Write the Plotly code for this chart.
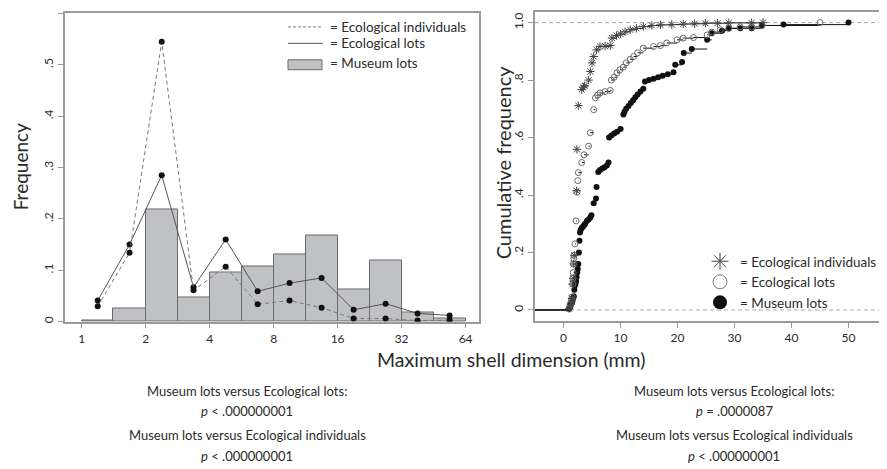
import plotly.graph_objects as go
import math

# ---------------- Left panel data (histogram + frequency polygons) ----------------
bin_edges = [1, 1.41, 2, 2.83, 4, 5.66, 8, 11.31, 16, 22.63, 32, 45.25, 64]
museum_freq = [0.002, 0.025, 0.219, 0.047, 0.096, 0.107, 0.131, 0.167, 0.063, 0.120, 0.017, 0.007]
bin_mids = [1.19, 1.68, 2.38, 3.36, 4.76, 6.73, 9.51, 13.45, 19.03, 26.91, 38.05, 53.82]
eco_lots_freq = [0.041, 0.150, 0.285, 0.067, 0.160, 0.059, 0.075, 0.085, 0.023, 0.035, 0.016, 0.012]
eco_ind_freq = [0.030, 0.134, 0.545, 0.061, 0.107, 0.034, 0.041, 0.027, 0.006, 0.006, 0.002, 0.003]
left_xticks = [1, 2, 4, 8, 16, 32, 64]
left_yticks = [0, 0.1, 0.2, 0.3, 0.4, 0.5, 0.6]
left_yticktext = ["0", ".1", ".2", ".3", ".4", ".5", ".6"]

# ---------------- Right panel data (cumulative frequency) ----------------
museum_x = [1.0, 1.1, 1.2, 1.3, 1.5, 1.6, 1.7, 1.8, 1.9, 2.0, 2.1, 2.2, 2.3, 2.4, 2.5,
            2.6, 2.7, 2.8, 2.9, 3.0, 3.2, 3.4, 3.6, 3.8, 4.1, 4.4, 4.7, 4.9, 5.3, 5.7,
            5.8, 6.1, 6.4, 6.8, 7.2, 7.6, 7.9, 8.0, 8.4, 8.9, 9.4, 10.0, 10.5, 10.7, 11.0,
            11.4, 11.8, 12.2, 12.6, 13.0, 13.5, 14.0, 14.3, 15.0, 15.8, 16.6, 17.4, 18.3, 19.3, 19.6,
            20.8, 21.1, 22.5, 25.2, 26.0, 27.8, 29.0, 31.0, 33.0, 34.8, 38.6, 50.0]
museum_cum = [0.003, 0.008, 0.015, 0.022, 0.028, 0.035, 0.042, 0.048, 0.070, 0.085, 0.090, 0.100, 0.115, 0.130, 0.143,
              0.160, 0.200, 0.241, 0.270, 0.278, 0.285, 0.290, 0.295, 0.300, 0.310, 0.315, 0.322, 0.330, 0.371, 0.388,
              0.428, 0.480, 0.487, 0.492, 0.497, 0.503, 0.513, 0.600, 0.607, 0.614, 0.620, 0.630, 0.680, 0.690, 0.700,
              0.710, 0.720, 0.730, 0.740, 0.750, 0.760, 0.770, 0.795, 0.800, 0.805, 0.810, 0.815, 0.820, 0.827, 0.853,
              0.863, 0.894, 0.908, 0.940, 0.963, 0.972, 0.980, 0.980, 0.980, 0.990, 0.993, 1.000]
eco_lots_x = [1.0, 1.2, 1.4, 1.5, 1.6, 1.65, 1.7, 1.75, 1.8, 1.85, 2.0, 2.2, 2.35, 2.5, 2.6,
              3.2, 3.6, 4.4, 4.7, 5.3, 5.6, 6.0, 6.4, 7.3, 8.2, 8.4, 8.9, 9.4, 9.9, 10.5,
              11.0, 11.7, 12.3, 13.0, 14.0, 15.8, 17.0, 18.1, 19.9, 21.0, 22.8, 25.2, 26.0, 27.5, 29.0,
              31.0, 33.0, 34.8, 45.0]
eco_lots_cum = [0.005, 0.020, 0.035, 0.045, 0.090, 0.110, 0.130, 0.160, 0.180, 0.190, 0.230, 0.310, 0.410, 0.450, 0.478,
                0.513, 0.540, 0.570, 0.617, 0.697, 0.738, 0.748, 0.755, 0.760, 0.764, 0.800, 0.810, 0.825, 0.836, 0.845,
                0.860, 0.872, 0.882, 0.895, 0.911, 0.917, 0.920, 0.929, 0.940, 0.946, 0.948, 0.957, 0.967, 0.975, 0.980,
                0.985, 0.985, 0.990, 1.000]
eco_ind_x = [1.0, 1.3, 1.5, 1.6, 1.7, 1.8, 1.9, 2.3, 2.35, 2.6, 3.2, 3.5, 3.7, 4.4, 4.7,
             5.0, 5.3, 5.8, 6.4, 7.3, 8.2, 8.5, 9.3, 10.0, 10.8, 11.7, 12.8, 14.0, 15.5, 17.0,
             19.0, 21.0, 23.0, 24.9, 27.0, 29.0, 33.0, 35.0]
eco_ind_cum = [0.005, 0.020, 0.040, 0.090, 0.110, 0.160, 0.190, 0.415, 0.559, 0.711, 0.767, 0.775, 0.780, 0.800, 0.830,
               0.860, 0.882, 0.905, 0.917, 0.918, 0.920, 0.946, 0.955, 0.960, 0.968, 0.975, 0.980, 0.986, 0.990, 0.992,
               0.993, 0.995, 0.996, 0.998, 0.998, 0.999, 0.999, 1.000]
right_xticks = [0, 10, 20, 30, 40, 50]
right_yticks = [0, 0.2, 0.4, 0.6, 0.8, 1.0]
right_yticktext = ["0", ".2", ".4", ".6", ".8", "1.0"]

# page body has an 8px default margin, so the figure is sized to fit the window
OFF = 8
W, H = 887 - OFF, 469 - OFF
FONT = "Lato, 'Open Sans', sans-serif"
TXT = "#2a2a2a"
AX = "#9a9a9a"


def px(xp):
    return (xp - OFF) / W


def py(yp):
    return 1 - (yp - OFF) / H


fig = go.Figure()

# histogram bars (Museum lots)
bar_x = [(bin_edges[i] + bin_edges[i + 1]) / 2 for i in range(len(museum_freq))]
bar_w = [bin_edges[i + 1] - bin_edges[i] for i in range(len(museum_freq))]
fig.add_trace(go.Bar(x=bar_x, y=museum_freq, width=bar_w, marker=dict(color="#c0c1c5",
                     line=dict(color="#6a6a6a", width=1)), showlegend=False, xaxis="x", yaxis="y"))
# Ecological lots (solid)
fig.add_trace(go.Scatter(x=bin_mids, y=eco_lots_freq, mode="lines+markers",
                         line=dict(color="#555555", width=1),
                         marker=dict(color="#111111", size=6), showlegend=False, xaxis="x", yaxis="y"))
# Ecological individuals (dashed)
fig.add_trace(go.Scatter(x=bin_mids, y=eco_ind_freq, mode="lines+markers",
                         line=dict(color="#777777", width=1, dash="4px,3px"),
                         marker=dict(color="#111111", size=6), showlegend=False, xaxis="x", yaxis="y"))


def horiz_segments(xs, ys):
    sx, sy = [], []
    for i in range(len(xs) - 1):
        sx += [xs[i], xs[i + 1], None]
        sy += [ys[i], ys[i], None]
    return sx, sy


RX0, RX1 = -5, 56.1
series = [
    (museum_x, museum_cum, dict(symbol="circle", color="#111111", size=6)),
    (eco_lots_x, eco_lots_cum, dict(symbol="circle-open", color="#6a6a6a", size=6, line=dict(width=1))),
    (eco_ind_x, eco_ind_cum, dict(symbol="asterisk-open", color="#444444", size=7, line=dict(width=1))),
]
for xs, ys, mk in series:
    sx, sy = horiz_segments(xs, ys)
    fig.add_trace(go.Scatter(x=sx, y=sy, mode="lines", line=dict(color="#111111", width=1),
                             showlegend=False, hoverinfo="skip", xaxis="x2", yaxis="y2"))
    fig.add_trace(go.Scatter(x=[RX0, xs[0]], y=[0, 0], mode="lines", line=dict(color="#111111", width=1),
                             showlegend=False, hoverinfo="skip", xaxis="x2", yaxis="y2"))
    fig.add_trace(go.Scatter(x=xs, y=ys, mode="markers", marker=mk, showlegend=False,
                             xaxis="x2", yaxis="y2"))

# legend entries for the right panel (big symbols)
for mk, name in [(dict(symbol="asterisk-open", color="#444444", size=14, line=dict(width=1)), "= Ecological individuals"),
                 (dict(symbol="circle-open", color="#777777", size=14, line=dict(width=1)), "= Ecological lots"),
                 (dict(symbol="circle", color="#111111", size=14), "= Museum lots")]:
    fig.add_trace(go.Scatter(x=[None], y=[None], mode="markers", marker=mk, name=name,
                             showlegend=True, legend="legend2", xaxis="x2", yaxis="y2"))

axis_common = dict(showgrid=False, zeroline=False, showline=True, mirror=True, linecolor=AX, linewidth=1.5,
                   ticks="outside", ticklen=5, tickcolor=AX, tickfont=dict(family=FONT, size=12, color=TXT))

fig.update_layout(
    width=W, height=H, margin=dict(l=0, r=0, t=0, b=0),
    paper_bgcolor="white", plot_bgcolor="white",
    font=dict(family=FONT, color=TXT),
    bargap=0,
    xaxis=dict(domain=[px(65), px(479)], type="log", range=[math.log10(0.835), math.log10(74)],
               tickvals=left_xticks, ticktext=[str(v) for v in left_xticks], anchor="y", **axis_common),
    yaxis=dict(domain=[py(323), py(13.5)], range=[0, 0.6], tickvals=left_yticks, ticktext=left_yticktext,
               tickangle=-90, anchor="x", **axis_common),
    xaxis2=dict(domain=[px(535), px(883.3)], range=[RX0, RX1], tickvals=right_xticks, anchor="y2", **axis_common),
    yaxis2=dict(domain=[py(322.7), py(11.7)], range=[-0.0395, 1.038], tickvals=right_yticks,
                ticktext=right_yticktext, tickangle=-90, anchor="x2", **axis_common),
    legend2=dict(x=px(700), y=py(247), xanchor="left", yanchor="top", bgcolor="rgba(0,0,0,0)",
                 font=dict(family=FONT, size=13.5, color=TXT), itemsizing="trace", tracegroupgap=0),
    showlegend=True,
)

# dashed reference lines at 0 and 1 on the right panel
for yv in [0, 1]:
    fig.add_shape(type="line", xref="x2 domain", yref="y2", x0=0, x1=1, y0=yv, y1=yv,
                  line=dict(color="#aaaaaa", width=1, dash="4px,3px"), layer="below")

# left legend (manual)
fig.add_shape(type="line", xref="paper", yref="paper", x0=px(288), x1=px(323), y0=py(27), y1=py(27),
              line=dict(color="#777777", width=1, dash="3px,2px"))
fig.add_shape(type="line", xref="paper", yref="paper", x0=px(288), x1=px(323), y0=py(43.5), y1=py(43.5),
              line=dict(color="#555555", width=1))
fig.add_shape(type="rect", xref="paper", yref="paper", x0=px(288), x1=px(322), y0=py(70), y1=py(60),
              fillcolor="#c0c1c5", line=dict(color="#6a6a6a", width=1))
for yp, t in [(27, "= Ecological individuals"), (43.5, "= Ecological lots"), (63, "= Museum lots")]:
    fig.add_annotation(xref="paper", yref="paper", x=px(328), y=py(yp), text=t, showarrow=False,
                       xanchor="left", yanchor="middle", font=dict(family=FONT, size=13.5, color=TXT))

# axis titles
fig.add_annotation(xref="paper", yref="paper", x=px(20), y=py(168), text="Frequency", textangle=-90,
                   showarrow=False, xanchor="center", yanchor="middle", font=dict(family=FONT, size=19, color=TXT))
fig.add_annotation(xref="paper", yref="paper", x=px(503), y=py(163), text="Cumulative frequency", textangle=-90,
                   showarrow=False, xanchor="center", yanchor="middle", font=dict(family=FONT, size=20, color=TXT))
fig.add_annotation(xref="paper", yref="paper", x=px(511), y=py(361), text="Maximum shell dimension (mm)",
                   showarrow=False, xanchor="center", yanchor="middle", font=dict(family=FONT, size=19.5, color=TXT))

# bottom statistics text
left_lines = ["Museum lots versus Ecological lots:", "<i>p</i> < .000000001",
              "Museum lots versus Ecological individuals", "<i>p</i> < .000000001"]
right_lines = ["Museum lots versus Ecological lots:", "<i>p</i> = .0000087",
               "Museum lots versus Ecological individuals", "<i>p</i> < .000000001"]
for cx, lines in [(247, left_lines), (734, right_lines)]:
    for yp, t in zip([393, 413, 437, 458], lines):
        fig.add_annotation(xref="paper", yref="paper", x=px(cx), y=py(yp), text=t, showarrow=False,
                           xanchor="center", yanchor="middle", font=dict(family=FONT, size=13, color=TXT))

fig.write_html("out.html")
